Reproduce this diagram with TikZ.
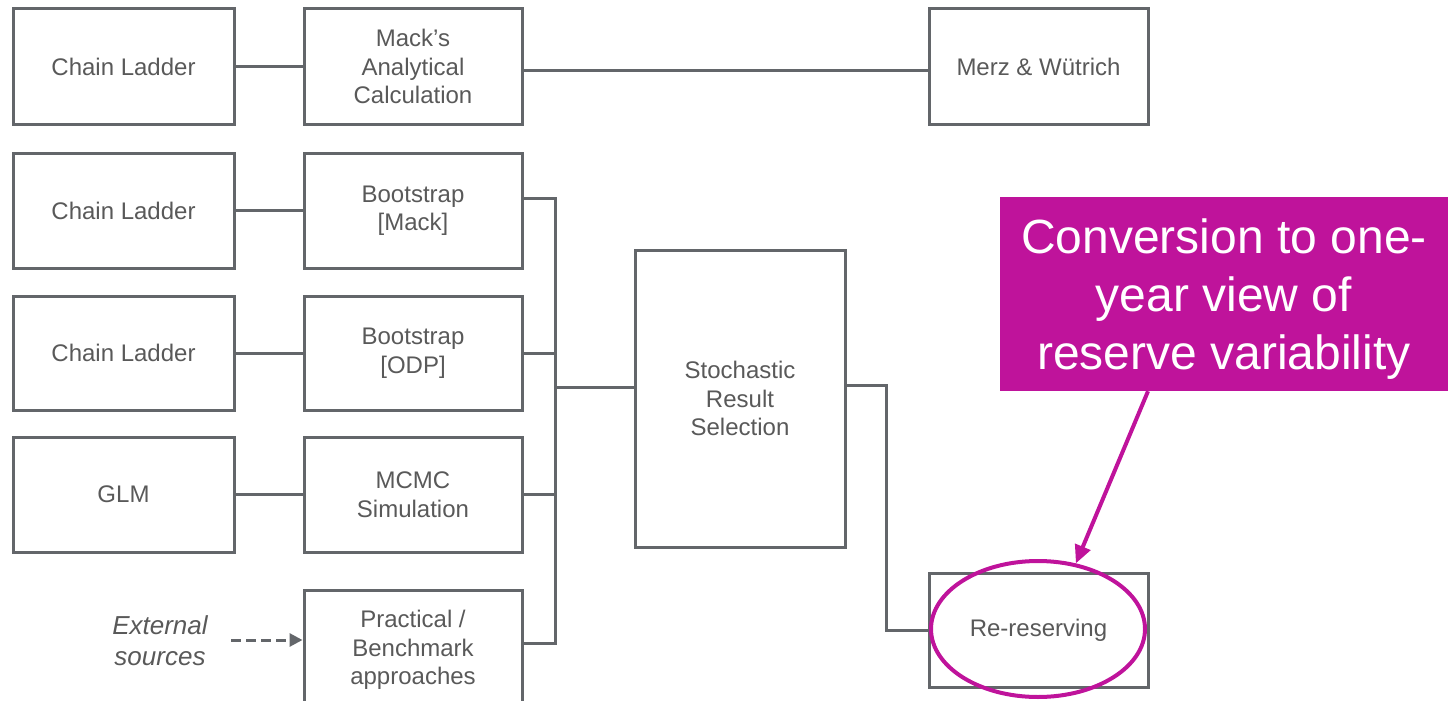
\documentclass[tikz,border=0pt]{standalone}
\usepackage{fontspec}
\setmainfont{Liberation Sans}
\usetikzlibrary{shapes.geometric,arrows.meta}
\definecolor{lineg}{RGB}{99,102,106}
\definecolor{textg}{RGB}{89,89,89}
\definecolor{magen}{RGB}{191,19,155}
\begin{document}
\begin{tikzpicture}[x=1pt,y=-1pt,
  box/.style={draw=lineg, line width=3pt, inner sep=0pt, align=center,
    text=textg, font=\fontsize{24}{28.5}\selectfont,
    minimum width=219pt, minimum height=115pt},
  link/.style={draw=lineg, line width=3pt},
  callout/.style={fill=magen, inner sep=0pt, minimum width=448pt, minimum height=194pt},
  callouttext/.style={align=center, text=white, inner sep=0pt,
    font=\fontsize{48}{58}\selectfont},
  pointer/.style={draw=magen, line width=4pt, -{Triangle[length=18pt,width=16pt]}},
  ring/.style={draw=magen, line width=4pt, ellipse, inner sep=0pt,
    minimum width=214pt, minimum height=136pt},
  feed/.style={draw=lineg, line width=3pt, dash pattern=on 10pt off 5pt,
    -{Triangle[length=13pt,width=13pt]}}
]
\path[use as bounding box, clip] (0,0) rectangle (1449,701);

% first row: analytical route
\node[box, minimum width=221pt] (cl1) at (123.5,66.5) {Chain Ladder};
\node[box, minimum width=218pt] (mack) at (413,66.5) {Mack’s\\Analytical\\Calculation};
\node[box] (merz) at (1038.5,66.5) {Merz \& Wütrich};

% simulation routes
\node[box, minimum width=221pt] (cl2) at (123.5,210.5) {Chain Ladder};
\node[box, minimum width=218pt] (bm) at (413,210.5) {Bootstrap\\{[Mack]}};
\node[box, minimum width=221pt, minimum height=114pt] (cl3) at (123.5,353) {Chain Ladder};
\node[box, minimum width=218pt, minimum height=114pt] (bo) at (413,353) {Bootstrap\\{[ODP]}};
\node[box, minimum width=221pt] (glm) at (123.5,494.5) {GLM};
\node[box, minimum width=218pt] (mcmc) at (413,494.5) {MCMC\\Simulation};
\node[box, minimum width=218pt, minimum height=120pt] (prac) at (413,650) {Practical /\\Benchmark\\approaches};
\node[text=textg, align=center, inner sep=0pt, font=\fontsize{26}{31}\selectfont\itshape] (ext) at (160,641) {External\\sources};

\node[box, minimum width=210pt, minimum height=297pt] (stoch) at (740,398.5) {Stochastic\\Result\\Selection};
\node[box, minimum height=114pt] (reres) at (1038.5,630) {Re-reserving};

% connectors
\draw[link] (cl1) -- (mack);
\draw[link] ([yshift=-4.5pt]mack.east) -- ([yshift=-4.5pt]merz.west);
\draw[link] (cl2) -- (bm);
\draw[link] (cl3) -- (bo);
\draw[link] (glm) -- (mcmc);
\coordinate (feedin) at (231,640);
\draw[feed] (feedin) -- (feedin -| prac.west);

\coordinate (busT) at (555,198);
\coordinate (busB) at (555,643);
\coordinate (busM) at (555,387);
\draw[link] ([yshift=12.5pt]bm.east) -- (busT) -- (busB) -- ([yshift=7pt]prac.east);
\draw[link] (bo.east) -- (bo.east -| busT);
\draw[link] (mcmc.east) -- (mcmc.east -| busT);
\draw[link] (busM) -- (busM -| stoch.west);

\coordinate (elbow) at (886,385);
\draw[link] (elbow -| stoch.east) -- (elbow) |- (reres.west);

% one-year view callout
\node[callout] (conv) at (1224,294) {};
\node[callouttext] (convtext) at ([yshift=-5pt]conv.center) {Conversion to one-\\year view of\\reserve variability};
\node[ring] (hl) at (1038,629) {};
\draw[pointer] ([xshift=-76pt]conv.south) -- (hl.60);
\end{tikzpicture}
\end{document}
